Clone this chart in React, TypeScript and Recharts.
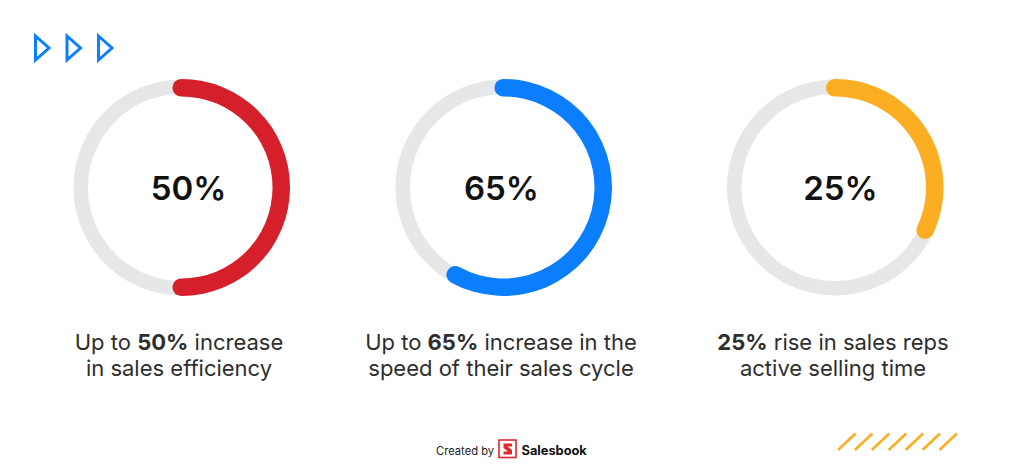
import { Cell, Pie, PieChart } from "recharts";

document.body.style.margin = "0";

// Headline figure shown in each ring, and the share of the circle each arc covers as drawn.
const STAT_LABELS = ["50%", "65%", "25%"];
const ARC_SHARE = [50, 58, 32];
const ARC_COLORS = ["#d51f2b", "#0a7efd", "#fbae21"];

// Caption lines under each ring: plain lead, bold figure, plain rest; then second line.
const CAPTION_LEAD = ["Up to ", "Up to ", ""];
const CAPTION_BOLD = ["50%", "65%", "25%"];
const CAPTION_REST = [" increase", " increase in the", " rise in sales reps"];
const CAPTION_LINE2 = ["in sales efficiency", "speed of their sales cycle", "active selling time"];

const TRACK = [{ value: 100 }];

const W = 1024;
const H = 474;
const RING_X = [181.5, 503.5, 835];
const RING_Y = 187.5;
const LABEL_X = [188.5, 501.5, 840.5];
const CAPTION_X = [179, 501, 833];
const CAP_DEG = 5.2; // round end sticks out past the arc's end by about this much
const FONT = "Inter, 'Noto Sans', sans-serif";

export default function App() {
  return (
    <div style={{ position: "relative", width: W, height: H, background: "#fff", fontFamily: FONT }}>
      <PieChart width={W} height={H} margin={{ top: 0, right: 0, bottom: 0, left: 0 }} style={{ position: "absolute", left: 0, top: 0 }}>
        {RING_X.map((cx, i) => (
          <Pie
            key={`track-${i}`}
            data={TRACK}
            dataKey="value"
            cx={cx}
            cy={RING_Y}
            innerRadius={93.5}
            outerRadius={108}
            startAngle={90}
            endAngle={-270}
            stroke="none"
            fill="#e6e7e9"
            isAnimationActive={false}
          />
        ))}
        {ARC_SHARE.map((share, i) => (
          <Pie
            key={`arc-${i}`}
            data={[{ name: STAT_LABELS[i], value: share }]}
            dataKey="value"
            cx={RING_X[i]}
            cy={RING_Y}
            innerRadius={91}
            outerRadius={108.5}
            cornerRadius={8.75}
            startAngle={90 + CAP_DEG}
            endAngle={90 - share * 3.6 - CAP_DEG}
            stroke="none"
            isAnimationActive={false}
          >
            <Cell fill={ARC_COLORS[i]} />
          </Pie>
        ))}
      </PieChart>

      <svg width={W} height={H} style={{ position: "absolute", left: 0, top: 0, pointerEvents: "none" }}>
        {/* three outlined arrows, top left */}
        {[0, 1, 2].map((k) => {
          const x = 35.5 + k * 31.5;
          return (
            <path
              key={k}
              d={`M${x},36 L${x + 13.5},48 L${x},60 Z`}
              fill="none"
              stroke="#0a7efd"
              strokeWidth={3}
              strokeLinejoin="miter"
            />
          );
        })}

        {STAT_LABELS.map((label, i) => (
          <text key={label} x={LABEL_X[i]} y={199.5} textAnchor="middle" fontSize={33} fontWeight={600} fill="#111">
            {label}
          </text>
        ))}

        {CAPTION_BOLD.map((bold, i) => (
          <g key={`cap-${i}`} fill="#2e2e2e" fontSize={22} style={{ whiteSpace: "pre" }}>
            <text x={CAPTION_X[i]} y={350} textAnchor="middle">
              <tspan>{CAPTION_LEAD[i]}</tspan>
              <tspan fontWeight={700}>{bold}</tspan>
              <tspan>{CAPTION_REST[i]}</tspan>
            </text>
            <text x={CAPTION_X[i]} y={376} textAnchor="middle">
              {CAPTION_LINE2[i]}
            </text>
          </g>
        ))}

        {/* footer credit */}
        <text x={436} y={455} fontSize={11.2} fill="#222">
          Created by
        </text>
        <rect x={499} y={440} width={17} height={17.5} fill="none" stroke="#e0262e" strokeWidth={1.6} />
        <path d="M503.5,443.5 H512 V446.5 H507.5 L512,450 V454.5 H503.5 V451.5 H508 L503.5,448 Z" fill="#e0262e" />
        <text x={521.5} y={455} fontSize={12.8} fontWeight={700} fill="#111">
          Salesbook
        </text>

        {/* orange hatching, bottom right */}
        {[0, 1, 2, 3, 4, 5, 6].map((k) => (
          <line
            key={k}
            x1={838 + k * 16.9}
            y1={450}
            x2={855.5 + k * 16.9}
            y2={433.5}
            stroke="#fbae21"
            strokeWidth={2.6}
          />
        ))}
      </svg>
    </div>
  );
}
